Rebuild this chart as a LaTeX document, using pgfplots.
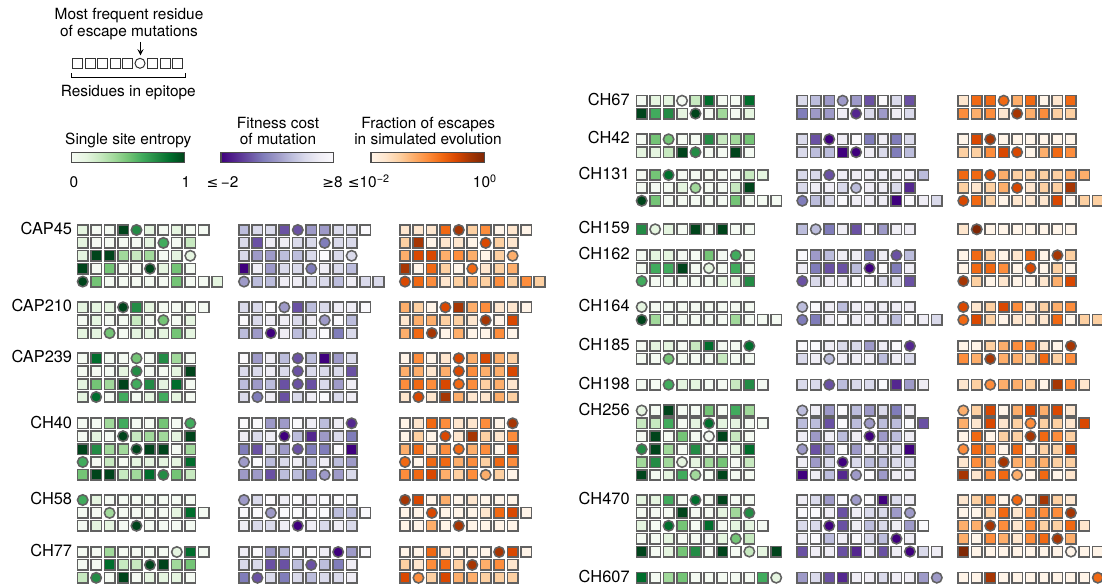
\documentclass[border=0pt]{standalone}
\usepackage{pgfplots}
\pgfplotsset{compat=1.18}
\usepackage{pgfplotstable}
\usepackage{fontspec}
\setmainfont{TeX Gyre Heros}
\newfontfamily\symf{DejaVu Sans}

% c = residue index, y = row position (px from top), g = entropy level, p = fitness-cost level (darkness), o = escape-fraction level, s = 1 for most frequent escape residue
\pgfplotstableread{
c y g p o s
0 230 1 3 1 0
1 230 0 2 1 0
2 230 0 2 1 0
3 230 8 6 5 0
4 230 6 6 7 1
5 230 1 4 2 0
6 230 0 4 4 0
7 230 1 2 0 0
8 230 0 2 1 0
9 230 0 0 0 0
0 242.9 1 2 2 0
1 242.9 0 6 7 0
2 242.9 0 1 0 0
3 242.9 0 1 1 0
4 242.9 0 2 1 0
5 242.9 1 2 0 0
6 242.9 5 5 6 1
7 242.9 0 2 2 0
8 242.9 2 2 1 0
0 255.8 1 2 3 0
1 255.8 8 4 6 0
2 255.8 8 4 6 0
3 255.8 3 3 3 0
4 255.8 2 3 4 0
5 255.8 3 2 3 0
6 255.8 0 0 0 0
7 255.8 1 2 2 0
8 255.8 1 2 3 1
0 268.7 8 8 7 0
1 268.7 0 1 0 0
2 268.7 4 4 5 0
3 268.7 0 2 2 0
4 268.7 0 2 0 0
5 268.7 8 5 5 1
6 268.7 1 1 1 0
7 268.7 4 2 2 0
8 268.7 0 3 3 0
0 281.6 8 4 6 1
1 281.6 4 3 5 0
2 281.6 0 3 4 0
3 281.6 0 1 1 0
4 281.6 0 1 2 0
5 281.6 0 2 3 0
6 281.6 0 2 2 0
7 281.6 4 3 4 0
8 281.6 0 1 2 0
9 281.6 0 2 4 0
10 281.6 1 2 2 0
0 307.3 1 2 3 0
1 307.3 1 2 2 0
2 307.3 1 0 0 0
3 307.3 8 4 6 1
4 307.3 6 6 7 0
5 307.3 1 3 3 0
6 307.3 0 2 4 0
7 307.3 0 1 1 0
8 307.3 0 1 1 0
9 307.3 0 0 0 0
0 320.2 0 0 1 0
1 320.2 1 2 3 0
2 320.2 0 1 3 0
3 320.2 0 1 2 0
4 320.2 2 2 2 0
5 320.2 0 1 1 0
6 320.2 4 4 7 1
7 320.2 0 0 0 0
8 320.2 1 3 6 0
0 333.1 1 3 3 0
1 333.1 1 4 5 0
2 333.1 4 8 7 1
3 333.1 0 1 0 0
4 333.1 1 3 3 0
5 333.1 1 2 0 0
6 333.1 1 0 0 0
7 333.1 4 5 4 0
8 333.1 1 2 0 0
0 358.3 0 0 0 0
1 358.3 7 4 4 0
2 358.3 0 1 0 0
3 358.3 0 3 1 0
4 358.3 4 6 6 1
5 358.3 0 3 3 0
6 358.3 6 8 6 0
7 358.3 3 4 3 0
8 358.3 0 2 2 0
0 371.2 0 2 3 0
1 371.2 0 2 3 0
2 371.2 0 1 1 0
3 371.2 1 2 3 0
4 371.2 6 6 6 1
5 371.2 0 2 4 0
6 371.2 0 2 3 0
7 371.2 1 2 3 0
8 371.2 8 6 6 0
0 384.1 1 3 4 0
1 384.1 4 4 5 0
2 384.1 3 3 4 0
3 384.1 8 6 6 0
4 384.1 5 6 5 1
5 384.1 6 6 4 0
6 384.1 1 2 2 0
7 384.1 7 4 3 0
8 384.1 0 1 1 0
0 397 1 2 1 0
1 397 7 5 6 1
2 397 0 1 1 0
3 397 5 6 7 0
4 397 0 2 3 0
5 397 1 1 1 0
6 397 5 0 1 0
7 397 1 2 3 0
8 397 0 1 2 0
0 423.3 0 0 0 0
1 423.3 0 0 1 0
2 423.3 3 4 5 0
3 423.3 5 4 4 0
4 423.3 0 0 1 0
5 423.3 0 1 1 0
6 423.3 4 3 4 0
7 423.3 0 1 0 0
8 423.3 5 7 7 1
0 436.2 0 1 0 0
1 436.2 1 2 2 0
2 436.2 0 1 0 0
3 436.2 8 8 6 1
4 436.2 2 3 1 0
5 436.2 3 7 7 0
6 436.2 3 4 2 0
7 436.2 1 2 1 0
8 436.2 8 5 4 0
0 449.1 8 5 3 0
1 449.1 6 6 5 0
2 449.1 3 2 1 0
3 449.1 3 4 4 0
4 449.1 8 6 5 1
5 449.1 8 5 3 0
6 449.1 8 5 4 0
7 449.1 0 0 0 0
8 449.1 3 8 6 0
0 462 5 4 5 1
1 462 0 0 0 0
2 462 2 3 5 0
3 462 0 2 5 0
4 462 1 1 3 0
5 462 1 3 4 0
6 462 1 1 2 0
7 462 1 3 5 0
8 462 7 4 4 0
0 474.9 4 4 4 0
1 474.9 8 4 5 0
2 474.9 8 6 6 0
3 474.9 2 3 3 0
4 474.9 3 3 2 0
5 474.9 7 5 4 0
6 474.9 6 4 3 1
7 474.9 4 4 2 0
8 474.9 2 2 0 0
0 500 5 4 7 1
1 500 1 2 6 0
2 500 0 0 0 0
3 500 0 1 3 0
4 500 0 0 0 0
5 500 0 1 1 0
6 500 0 0 0 0
7 500 0 0 0 0
8 500 0 0 0 0
0 512.9 0 0 0 0
1 512.9 0 0 0 0
2 512.9 3 4 6 1
3 512.9 0 0 0 0
4 512.9 0 0 0 0
5 512.9 0 0 0 0
6 512.9 0 0 1 0
7 512.9 1 3 5 0
8 512.9 7 3 6 0
9 512.9 0 0 0 0
0 525.8 0 1 0 0
1 525.8 1 2 0 0
2 525.8 1 2 3 0
3 525.8 0 1 0 0
4 525.8 8 8 7 1
5 525.8 0 1 0 0
6 525.8 0 2 0 0
7 525.8 0 1 0 0
8 525.8 0 2 0 0
0 552 0 1 0 0
1 552 0 0 0 0
2 552 3 4 5 0
3 552 0 3 1 0
4 552 0 0 0 0
5 552 0 0 0 0
6 552 0 1 0 0
7 552 1 8 7 1
8 552 7 4 6 0
9 552 0 0 0 0
0 564.9 0 2 2 0
1 564.9 0 2 1 0
2 564.9 7 6 4 0
3 564.9 2 6 5 0
4 564.9 2 3 2 0
5 564.9 8 6 7 1
6 564.9 8 3 3 0
7 564.9 3 5 4 0
8 564.9 4 1 1 0
0 577.8 2 5 6 0
1 577.8 6 6 4 1
2 577.8 0 2 2 0
3 577.8 8 5 6 0
4 577.8 0 2 3 0
5 577.8 1 3 3 0
6 577.8 1 2 2 0
7 577.8 1 2 2 0
8 577.8 0 1 2 0
}\lefttab

\pgfplotstableread{
c y g p o s
0 100.7 0 2 1 0
1 100.7 1 3 5 0
2 100.7 1 4 5 0
3 100.7 0 4 5 1
4 100.7 2 4 3 0
5 100.7 7 6 5 0
6 100.7 0 0 0 0
7 100.7 0 2 1 0
8 100.7 7 6 5 0
0 113.6 8 5 4 0
1 113.6 5 4 3 0
2 113.6 6 4 4 0
3 113.6 1 1 1 0
4 113.6 8 7 7 1
5 113.6 0 2 3 0
6 113.6 3 4 4 0
7 113.6 0 1 2 0
8 113.6 1 2 2 0
0 139.3 0 2 0 0
1 139.3 4 6 6 0
2 139.3 4 8 7 1
3 139.3 0 1 0 0
4 139.3 0 0 0 0
5 139.3 6 5 0 0
6 139.3 2 1 0 0
7 139.3 3 5 0 0
8 139.3 4 2 0 0
0 152.2 1 2 2 0
1 152.2 1 3 2 0
2 152.2 2 3 4 0
3 152.2 8 8 6 0
4 152.2 6 8 6 1
5 152.2 0 1 0 0
6 152.2 0 2 3 0
7 152.2 8 5 5 0
8 152.2 0 3 4 0
0 175 0 2 5 0
1 175 4 2 5 0
2 175 7 6 6 1
3 175 0 1 3 0
4 175 0 1 2 0
5 175 0 1 2 0
6 175 0 1 2 0
7 175 0 1 2 0
8 175 2 1 3 0
9 175 1 3 3 0
0 187.9 0 2 2 0
1 187.9 0 1 1 0
2 187.9 0 1 2 0
3 187.9 1 2 3 0
4 187.9 3 3 6 1
5 187.9 0 1 1 0
6 187.9 0 1 2 0
7 187.9 2 2 2 0
8 187.9 8 7 7 0
0 200.8 8 5 6 1
1 200.8 4 3 5 0
2 200.8 0 2 2 0
3 200.8 0 0 0 0
4 200.8 0 1 1 0
5 200.8 0 1 1 0
6 200.8 0 1 1 0
7 200.8 4 8 6 0
8 200.8 0 0 0 0
9 200.8 0 1 2 0
10 200.8 0 2 2 0
0 229.3 6 3 1 0
1 229.3 1 3 8 1
2 229.3 1 5 0 0
3 229.3 0 1 0 0
4 229.3 8 6 0 0
5 229.3 0 0 0 0
6 229.3 8 4 0 0
7 229.3 0 1 0 0
8 229.3 0 1 0 0
0 255.3 0 0 0 0
1 255.3 1 4 5 0
2 255.3 1 3 2 0
3 255.3 0 1 0 0
4 255.3 0 1 1 0
5 255.3 4 5 5 0
6 255.3 0 1 0 0
7 255.3 5 6 7 1
8 255.3 0 3 2 0
0 268.2 0 1 0 0
1 268.2 5 5 5 0
2 268.2 5 6 5 0
3 268.2 8 6 4 0
4 268.2 0 3 0 0
5 268.2 1 8 6 1
6 268.2 0 0 0 0
7 268.2 5 5 2 0
8 268.2 0 1 0 0
0 281.1 5 6 7 1
1 281.1 0 2 2 0
2 281.1 0 1 0 0
3 281.1 0 1 1 0
4 281.1 0 0 0 0
5 281.1 0 0 0 0
6 281.1 1 2 1 0
7 281.1 1 2 3 0
8 281.1 6 6 6 0
0 307 1 3 6 1
1 307 0 0 1 0
2 307 0 1 2 0
3 307 0 3 6 0
4 307 0 1 4 0
5 307 0 1 1 0
6 307 0 1 2 0
7 307 0 1 3 0
8 307 0 1 4 0
0 319.9 8 5 5 1
1 319.9 3 5 6 0
2 319.9 0 1 2 0
3 319.9 0 0 0 0
4 319.9 0 1 1 0
5 319.9 0 1 1 0
6 319.9 0 1 1 0
7 319.9 3 3 5 0
8 319.9 0 0 0 0
9 319.9 0 1 2 0
10 319.9 0 2 2 0
0 346 0 0 0 0
1 346 1 0 0 0
2 346 1 1 2 0
3 346 0 2 3 0
4 346 2 2 4 0
5 346 7 4 4 0
6 346 0 1 1 0
7 346 0 0 0 0
8 346 7 7 7 1
0 358.9 0 2 4 0
1 358.9 0 1 3 0
2 358.9 4 3 7 1
3 358.9 0 1 3 0
4 358.9 0 1 3 0
5 358.9 0 1 2 0
6 358.9 2 3 5 0
7 358.9 0 1 2 0
8 358.9 0 2 4 0
0 384.7 0 2 1 0
1 384.7 0 2 2 0
2 384.7 5 6 4 1
3 384.7 1 3 3 0
4 384.7 1 2 3 0
5 384.7 0 2 2 0
6 384.7 0 0 0 0
7 384.7 2 7 7 0
8 384.7 6 4 4 0
9 384.7 0 1 1 0
0 410.5 1 3 3 1
1 410.5 0 1 2 0
2 410.5 8 4 6 0
3 410.5 0 0 0 0
4 410.5 0 3 3 0
5 410.5 4 4 6 0
6 410.5 0 2 3 0
7 410.5 5 5 6 0
8 410.5 3 1 1 0
0 423.4 2 3 3 0
1 423.4 2 3 1 0
2 423.4 5 6 6 0
3 423.4 0 0 1 0
4 423.4 1 3 2 0
5 423.4 7 4 4 1
6 423.4 1 3 2 0
7 423.4 1 3 2 0
8 423.4 0 0 1 0
9 423.4 0 6 6 0
0 436.3 0 1 0 0
1 436.3 8 4 5 0
2 436.3 0 1 0 0
3 436.3 4 3 2 0
4 436.3 0 1 2 0
5 436.3 0 8 7 1
6 436.3 8 4 5 0
7 436.3 2 3 4 0
8 436.3 0 1 2 0
0 449.2 6 4 4 1
1 449.2 8 6 5 0
2 449.2 3 4 4 0
3 449.2 0 0 0 0
4 449.2 6 4 5 0
5 449.2 0 1 0 0
6 449.2 0 2 2 0
7 449.2 1 2 2 0
8 449.2 7 8 6 0
0 462.1 3 1 1 0
1 462.1 6 4 4 0
2 462.1 3 2 3 0
3 462.1 1 8 7 1
4 462.1 1 2 3 0
5 462.1 3 3 3 0
6 462.1 4 3 3 0
7 462.1 0 2 2 0
8 462.1 2 2 2 0
0 475 8 8 7 0
1 475 0 1 1 0
2 475 1 3 4 0
3 475 5 7 5 0
4 475 3 4 3 1
5 475 0 0 0 0
6 475 8 4 5 0
7 475 0 1 0 0
8 475 0 1 1 0
0 500 1 1 1 0
1 500 1 2 2 0
2 500 5 4 4 0
3 500 0 0 0 0
4 500 7 4 5 1
5 500 0 0 0 0
6 500 8 8 7 0
7 500 0 2 2 0
8 500 0 1 1 0
0 512.9 0 0 0 0
1 512.9 0 0 0 0
2 512.9 0 1 2 0
3 512.9 8 6 5 0
4 512.9 0 1 1 0
5 512.9 0 2 4 0
6 512.9 1 2 4 0
7 512.9 3 4 4 0
8 512.9 6 4 7 1
0 525.8 1 2 3 0
1 525.8 0 2 3 0
2 525.8 7 8 7 1
3 525.8 4 6 4 0
4 525.8 0 1 1 0
5 525.8 7 3 4 0
6 525.8 0 2 2 0
7 525.8 1 1 2 0
8 525.8 1 4 5 0
9 525.8 0 0 1 0
0 538.7 0 1 3 0
1 538.7 0 0 0 0
2 538.7 1 3 4 0
3 538.7 0 1 3 0
4 538.7 0 0 1 0
5 538.7 0 2 4 0
6 538.7 1 3 5 0
7 538.7 4 8 7 1
8 538.7 2 1 3 0
0 551.6 8 6 8 0
1 551.6 0 1 0 0
2 551.6 1 1 0 0
3 551.6 4 6 0 0
4 551.6 6 7 0 0
5 551.6 0 1 0 0
6 551.6 8 6 0 0
7 551.6 0 1 0 0
8 551.6 2 8 0 1
9 551.6 1 2 0 0
10 551.6 8 1 0 0
0 577.7 7 4 0 0
1 577.7 0 2 0 0
2 577.7 3 6 7 0
3 577.7 4 7 0 0
4 577.7 0 1 0 0
5 577.7 0 1 0 0
6 577.7 0 2 0 0
7 577.7 0 1 0 0
8 577.7 0 1 0 0
9 577.7 5 4 0 0
10 577.7 1 4 5 1
}\righttab

\pgfplotsset{
  cellbase/.style={only marks, scatter, mark size=2.62pt,
    scatter/use mapped color={draw=black!62, fill=mapped color},
    mark options={line width=0.78pt}},
  cellsq/.style={cellbase, mark=square*, restrict expr to domain={\thisrow{s}}{-0.5:0.5}},
  cellci/.style={cellbase, mark=*, restrict expr to domain={\thisrow{s}}{0.5:1.5}},
}

\begin{document}
\begin{tikzpicture}[font=\fontsize{7.7}{9.2}\selectfont, every node/.style={inner sep=0pt},
  lab/.style={anchor=base east, font=\fontsize{8.2}{9.8}\selectfont}]
\begin{axis}[name=ax, hide axis, scale only axis, width=551pt, height=293.5pt,
  xmin=0, xmax=1102, ymin=0, ymax=587, y dir=reverse,
  clip marker paths=true,
  point meta min=0, point meta max=28,
  colormap={combo}{
    rgb255=(244,250,242) rgb255=(229,245,224) rgb255=(199,233,192) rgb255=(161,217,155)
    rgb255=(116,196,118) rgb255=(65,171,93) rgb255=(35,139,69) rgb255=(0,109,44) rgb255=(0,68,27)
    rgb255=(0,68,27)
    rgb255=(250,249,252) rgb255=(239,237,245) rgb255=(218,218,235) rgb255=(188,189,220)
    rgb255=(158,154,200) rgb255=(128,125,186) rgb255=(106,81,163) rgb255=(84,39,143) rgb255=(63,0,125)
    rgb255=(63,0,125)
    rgb255=(255,244,232) rgb255=(254,230,206) rgb255=(253,208,162) rgb255=(253,174,107)
    rgb255=(253,141,60) rgb255=(241,105,19) rgb255=(217,72,1) rgb255=(166,54,3) rgb255=(127,39,4)
  }]

% ---- left block ----
\addplot[cellsq, point meta={\thisrow{g}}] table[x expr={\thisrow{c}*13.45+82.7}, y=y] {\lefttab};
\addplot[cellci, point meta={\thisrow{g}}] table[x expr={\thisrow{c}*13.45+82.7}, y=y] {\lefttab};
\addplot[cellsq, point meta={\thisrow{p}+10}] table[x expr={\thisrow{c}*13.45+244}, y=y] {\lefttab};
\addplot[cellci, point meta={\thisrow{p}+10}] table[x expr={\thisrow{c}*13.45+244}, y=y] {\lefttab};
\addplot[cellsq, point meta={\thisrow{o}+20}] table[x expr={\thisrow{c}*13.45+405}, y=y] {\lefttab};
\addplot[cellci, point meta={\thisrow{o}+20}] table[x expr={\thisrow{c}*13.45+405}, y=y] {\lefttab};

% ---- right block ----
\addplot[cellsq, point meta={\thisrow{g}}] table[x expr={\thisrow{c}*13.45+641.7}, y=y] {\righttab};
\addplot[cellci, point meta={\thisrow{g}}] table[x expr={\thisrow{c}*13.45+641.7}, y=y] {\righttab};
\addplot[cellsq, point meta={\thisrow{p}+10}] table[x expr={\thisrow{c}*13.45+802.3}, y=y] {\righttab};
\addplot[cellci, point meta={\thisrow{p}+10}] table[x expr={\thisrow{c}*13.45+802.3}, y=y] {\righttab};
\addplot[cellsq, point meta={\thisrow{o}+20}] table[x expr={\thisrow{c}*13.45+963.3}, y=y] {\righttab};
\addplot[cellci, point meta={\thisrow{o}+20}] table[x expr={\thisrow{c}*13.45+963.3}, y=y] {\righttab};

% ---- schematic ----
\addplot[only marks, mark=square*, mark size=2.5pt, mark options={fill=white, draw=black!80, line width=0.5pt}]
  coordinates {(77.5,63.3) (90,63.3) (102.5,63.3) (115,63.3) (127.5,63.3) (152.5,63.3) (165,63.3) (177.5,63.3)};
\addplot[only marks, mark=*, mark size=2.5pt, mark options={fill=white, draw=black!80, line width=0.5pt}]
  coordinates {(140,63.3)};
\draw[line width=0.4pt, ->, >=stealth] (axis cs:140.5,42) -- (axis cs:140.5,55.5);
\draw[line width=0.45pt] (axis cs:71.7,73.5) -- (axis cs:71.7,77.5) -- (axis cs:185,77.5) -- (axis cs:185,73.5);
\node[anchor=base] at (axis cs:129,19.5) {Most frequent residue};
\node[anchor=base] at (axis cs:129,37) {of escape mutations};
\node[anchor=base] at (axis cs:128.3,96.5) {Residues in epitope};

% ---- colour bars ----
\addplot[surf, shader=interp, point meta=explicit, mesh/cols=2] coordinates {
 (71.7,152.3) [0] (184.3,152.3) [8]
 (71.7,162.7) [0] (184.3,162.7) [8]};
\addplot[surf, shader=interp, point meta=explicit, mesh/cols=2] coordinates {
 (221,152.3) [18] (333.3,152.3) [10]
 (221,162.7) [18] (333.3,162.7) [10]};
\addplot[surf, shader=interp, point meta=explicit, mesh/cols=2] coordinates {
 (371,152.3) [20] (484.3,152.3) [28]
 (371,162.7) [20] (484.3,162.7) [28]};
\draw[black!70, line width=0.55pt] (axis cs:71.7,152.3) rectangle (axis cs:184.3,162.7);
\draw[black!70, line width=0.55pt] (axis cs:221,152.3) rectangle (axis cs:333.3,162.7);
\draw[black!70, line width=0.55pt] (axis cs:371,152.3) rectangle (axis cs:484.3,162.7);
\node[anchor=base] at (axis cs:128.3,145) {Single site entropy};
\node[anchor=base] at (axis cs:278,128.5) {Fitness cost};
\node[anchor=base] at (axis cs:278,145) {of mutation};
\node[anchor=base] at (axis cs:428.3,128.5) {Fraction of escapes};
\node[anchor=base] at (axis cs:428,145) {in simulated evolution};
\node[anchor=base] at (axis cs:74,188) {0};
\node[anchor=base] at (axis cs:186,188) {1};
\node[anchor=base] at (axis cs:222.5,188) {{\symf\fontsize{7}{9}\selectfont ≤}\,−2};
\node[anchor=base] at (axis cs:332.5,188) {{\symf\fontsize{7}{9}\selectfont ≥}8};
\node[anchor=base] at (axis cs:369,188) {{\symf\fontsize{7}{9}\selectfont ≤}10\textsuperscript{−2}};
\node[anchor=base] at (axis cs:485,188) {10\textsuperscript{0}};

% ---- patient labels ----
\node[lab] at (axis cs:72.5,234.7) {CAP45};
\node[lab] at (axis cs:72.5,312) {CAP210};
\node[lab] at (axis cs:72.5,363) {CAP239};
\node[lab] at (axis cs:72.5,428) {CH40};
\node[lab] at (axis cs:72.5,504.7) {CH58};
\node[lab] at (axis cs:72.5,556.7) {CH77};
\node[lab] at (axis cs:630,105.4) {CH67};
\node[lab] at (axis cs:630,144) {CH42};
\node[lab] at (axis cs:630,179.7) {CH131};
\node[lab] at (axis cs:630,234) {CH159};
\node[lab] at (axis cs:630,260) {CH162};
\node[lab] at (axis cs:630,311.7) {CH164};
\node[lab] at (axis cs:630,350.7) {CH185};
\node[lab] at (axis cs:630,389.4) {CH198};
\node[lab] at (axis cs:630,415.2) {CH256};
\node[lab] at (axis cs:630,504.7) {CH470};
\node[lab] at (axis cs:630,582.4) {CH607};
\end{axis}
\pgfresetboundingbox
\path (ax.south west) rectangle (ax.north east);
\end{tikzpicture}
\end{document}
